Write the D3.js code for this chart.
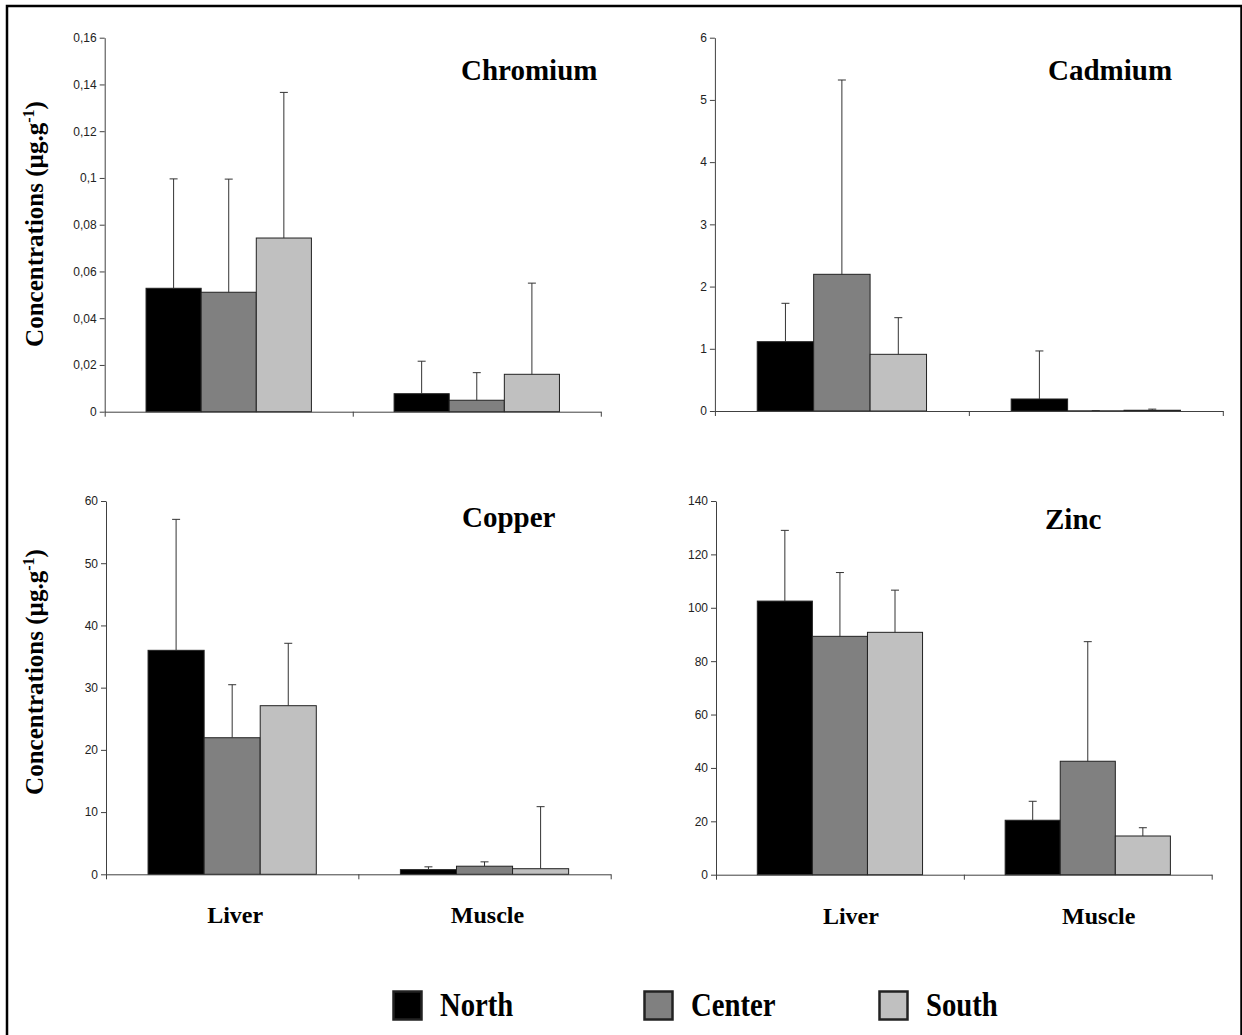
<!DOCTYPE html>
<html>
<head>
<meta charset="utf-8">
<script src="https://cdn.jsdelivr.net/npm/d3@7"></script>
<style>
  body { margin: 0; background: #fff; }
  svg { display: block; }
  .tick text { font-family: "Liberation Sans", Arial, sans-serif; font-size: 12px; fill: #222; }
  .serif { font-family: "Liberation Serif", "Times New Roman", serif; font-weight: bold; fill: #000; }
</style>
</head>
<body>
<svg id="chart" width="1242" height="1035"></svg>
<script>
// data (order of values: Liver N, C, S, then Muscle N, C, S)
const tissues      = ["Liver", "Muscle"];
const regions      = ["North", "Center", "South"];
const regionColors = ["#000000", "#808080", "#c0c0c0"];

const chromiumMean = [0.0528, 0.0511, 0.0743, 0.0077, 0.0049, 0.0160];
const chromiumSD   = [0.0468, 0.0484, 0.0623, 0.0139, 0.0118, 0.0390];
const chromiumTicks = [0, 0.02, 0.04, 0.06, 0.08, 0.1, 0.12, 0.14, 0.16];

const cadmiumMean = [1.114, 2.197, 0.911, 0.193, 0.003, 0.012];
const cadmiumSD   = [0.617, 3.123, 0.589, 0.772, 0.004, 0.018];
const cadmiumTicks = [0, 1, 2, 3, 4, 5, 6];

const copperMean = [36.0, 21.95, 27.1, 0.75, 1.3, 0.9];
const copperSD   = [21.05, 8.52, 10.03, 0.45, 0.7, 9.97];
const copperTicks = [0, 10, 20, 30, 40, 50, 60];

const zincMean = [102.5, 89.3, 90.8, 20.4, 42.5, 14.5];
const zincSD   = [26.5, 23.9, 15.8, 7.1, 44.8, 3.1];
const zincTicks = [0, 20, 40, 60, 80, 100, 120, 140];

// layout of the four panels
const panels = [
  { title: "Chromium", mean: chromiumMean, sd: chromiumSD, ticks: chromiumTicks,
    x0: 104.7, x1: 600.8, yTop: 37.7, yBot: 411.7, titleX: 461, titleY: 80,
    yLabel: 224, catLabels: false },
  { title: "Cadmium", mean: cadmiumMean, sd: cadmiumSD, ticks: cadmiumTicks,
    x0: 714.9, x1: 1222.8, yTop: 37.7, yBot: 411, titleX: 1048, titleY: 80,
    yLabel: null, catLabels: false },
  { title: "Copper", mean: copperMean, sd: copperSD, ticks: copperTicks,
    x0: 106, x1: 610.7, yTop: 501, yBot: 874.3, titleX: 462, titleY: 527,
    yLabel: 672, catLabels: true, catShift: 3, catY: 923 },
  { title: "Zinc", mean: zincMean, sd: zincSD, ticks: zincTicks,
    x0: 716, x1: 1211.7, yTop: 501, yBot: 874.7, titleX: 1045, titleY: 529,
    yLabel: null, catLabels: true, catShift: 11, catY: 924 }
];

const svg = d3.select("#chart");
const fmt = d => String(+d.toFixed(2)).replace(".", ",");
const color = d3.scaleOrdinal().domain(regions).range(regionColors);

// outer frame
svg.append("rect")
  .attr("x", 7).attr("y", 6)
  .attr("width", 1234.5).attr("height", 1100)
  .attr("fill", "none")
  .attr("stroke", "#000")
  .attr("stroke-width", 2.5);

panels.forEach(p => {
  const g = svg.append("g");

  const y = d3.scaleLinear()
    .domain([0, p.ticks[p.ticks.length - 1]])
    .range([p.yBot, p.yTop]);

  const xGroup = d3.scaleBand()
    .domain(tissues)
    .range([p.x0, p.x1]);

  // Excel-like gap width 150% -> outer padding 0.75 step each side
  const xBar = d3.scaleBand()
    .domain(regions)
    .range([0, xGroup.bandwidth()])
    .paddingOuter(0.75);

  const rows = [];
  tissues.forEach((t, ti) => regions.forEach((r, ri) => {
    rows.push({ tissue: t, region: r, mean: p.mean[ti * 3 + ri], sd: p.sd[ti * 3 + ri] });
  }));

  // bars
  g.selectAll("rect.bar")
    .data(rows)
    .join("rect")
      .attr("class", "bar")
      .attr("x", d => xGroup(d.tissue) + xBar(d.region))
      .attr("width", xBar.bandwidth())
      .attr("y", d => y(d.mean))
      .attr("height", d => y(0) - y(d.mean))
      .attr("fill", d => color(d.region))
      .attr("stroke", "#222")
      .attr("stroke-width", 1);

  // upper error bars
  const err = g.selectAll("g.err")
    .data(rows)
    .join("g")
      .attr("class", "err")
      .attr("transform", d => `translate(${xGroup(d.tissue) + xBar(d.region) + xBar.bandwidth() / 2},0)`)
      .attr("stroke", "#333")
      .attr("stroke-width", 1);
  err.append("line")
    .attr("y1", d => y(d.mean))
    .attr("y2", d => y(d.mean + d.sd));
  err.append("line")
    .attr("x1", -4).attr("x2", 4)
    .attr("y1", d => y(d.mean + d.sd))
    .attr("y2", d => y(d.mean + d.sd));

  // y axis
  g.append("g")
    .attr("transform", `translate(${p.x0},0)`)
    .call(d3.axisLeft(y).tickValues(p.ticks).tickFormat(fmt).tickSize(5).tickSizeOuter(0).tickPadding(3))
    .call(a => a.selectAll("path, line").attr("stroke", "#404040"));

  // x axis with ticks at group boundaries
  const xEdge = d3.scaleLinear().domain([0, tissues.length]).range([p.x0, p.x1]);
  g.append("g")
    .attr("transform", `translate(0,${p.yBot})`)
    .call(d3.axisBottom(xEdge).tickValues(d3.range(tissues.length + 1)).tickFormat("").tickSize(5).tickSizeOuter(0))
    .call(a => a.selectAll("path, line").attr("stroke", "#404040"));

  // panel title
  g.append("text")
    .attr("class", "serif")
    .attr("x", p.titleX)
    .attr("y", p.titleY)
    .style("font-size", "29px")
    .text(p.title);

  // y axis title
  if (p.yLabel !== null) {
    const lab = g.append("text")
      .attr("class", "serif")
      .attr("transform", `translate(43,${p.yLabel}) rotate(-90)`)
      .attr("text-anchor", "middle")
      .style("font-size", "25px");
    lab.append("tspan").text("Concentrations (µg.g");
    lab.append("tspan").attr("dy", -9).style("font-size", "16px").text("-1");
    lab.append("tspan").attr("dy", 9).text(")");
  }

  // category labels
  if (p.catLabels) {
    g.selectAll("text.cat")
      .data(tissues)
      .join("text")
        .attr("class", "cat serif")
        .attr("x", d => xGroup(d) + xGroup.bandwidth() / 2 + p.catShift)
        .attr("y", p.catY)
        .attr("text-anchor", "middle")
        .style("font-size", "24px")
        .text(d => d);
  }
});

// legend
const legendX = [392, 643, 878];
const legend = svg.append("g");
regions.forEach((r, i) => {
  legend.append("rect")
    .attr("x", legendX[i] + 1.5)
    .attr("y", 991.5)
    .attr("width", 28)
    .attr("height", 28)
    .attr("fill", color(r))
    .attr("stroke", "#222")
    .attr("stroke-width", 2.5);
  legend.append("text")
    .attr("class", "serif")
    .attr("transform", `translate(${legendX[i] + 48},1016) scale(0.87,1)`)
    .style("font-size", "33px")
    .text(r);
});
</script>
</body>
</html>
